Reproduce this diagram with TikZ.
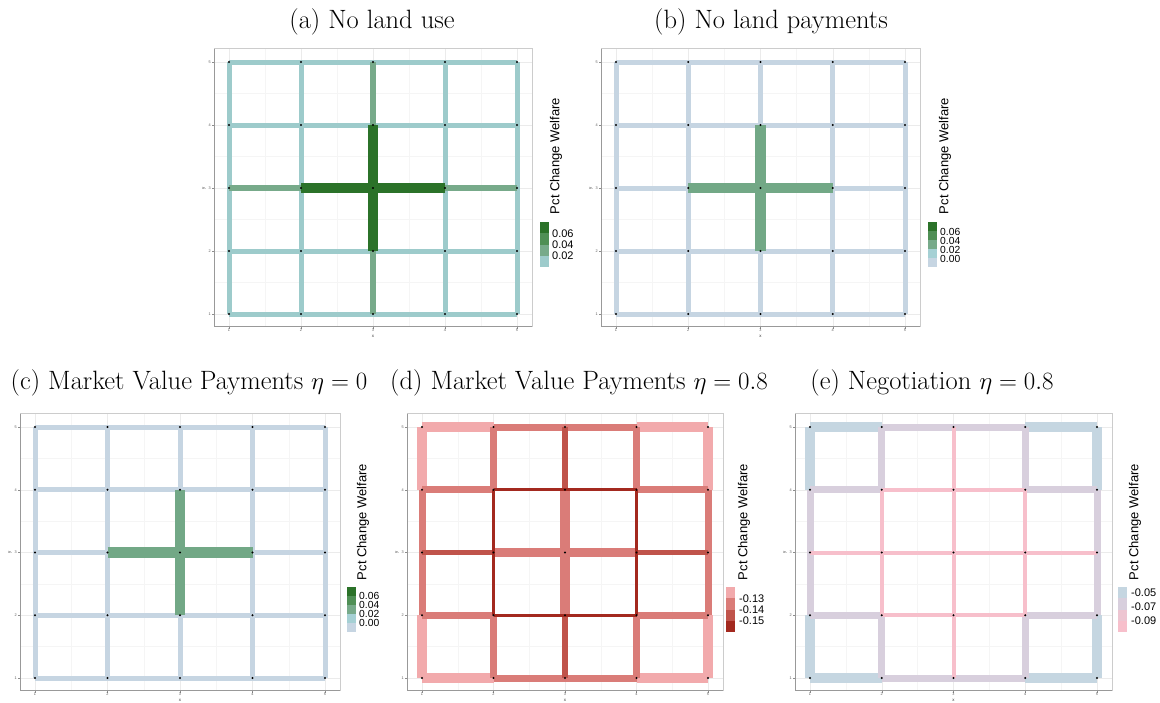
\documentclass[tikz,border=0pt]{standalone}
\usepackage{fontspec}
\newfontfamily\lsans{Liberation Sans}
\definecolor{cTeal}{HTML}{9DCBCB}
\definecolor{cGl}{HTML}{77AA8A}
\definecolor{cGm}{HTML}{4F8F55}
\definecolor{cGd}{HTML}{2B7229}
\definecolor{cBg}{HTML}{C6D5E2}
\definecolor{cTl}{HTML}{A5D0D4}
\definecolor{cGc}{HTML}{72A886}
\definecolor{cLp}{HTML}{F2AAAC}
\definecolor{cMd}{HTML}{DA7C78}
\definecolor{cDk}{HTML}{C0544B}
\definecolor{cDr}{HTML}{A3291F}
\definecolor{cEb}{HTML}{C5D6E1}
\definecolor{cEl}{HTML}{D8CFDD}
\definecolor{cEpp}{HTML}{EDC5D1}
\definecolor{cEp}{HTML}{F7BFCB}
\newcommand\mkpanel[5]{%
 \pgfmathsetmacro\pL{#2-15}%
 \pgfmathsetmacro\pR{#2+4*#3+15}%
 \pgfmathsetmacro\pT{#4-13.5}%
 \pgfmathsetmacro\pB{#4+4*#5+12}%
 \pgfmathsetmacro\pCx{#2+2*#3}%
 \pgfmathsetmacro\pCy{#4+2*#5}%
 \foreach \k in {0.5,1.5,2.5,3.5} {
   \draw[minorgrid] ({#2+\k*#3},\pT) -- ({#2+\k*#3},\pB);
   \draw[minorgrid] (\pL,{#4+\k*#5}) -- (\pR,{#4+\k*#5});
 }
 \foreach \k in {0,...,4} {
   \draw[majorgrid] ({#2+\k*#3},\pT) -- ({#2+\k*#3},\pB);
   \draw[majorgrid] (\pL,{#4+\k*#5}) -- (\pR,{#4+\k*#5});
   \pgfmathtruncatemacro\lab{\k+1}
   \pgfmathtruncatemacro\laby{5-\k}
   \draw[tickst] ({#2+\k*#3},\pB) -- ++(0,2.5) node[ticklab, below=0.6pt] {\lab};
   \draw[tickst] (\pL,{#4+\k*#5}) -- ++(-2.5,0) node[ticklab, left=0.6pt] {\laby};
 }
 \draw[framest] (\pL,\pT) rectangle (\pR,\pB);
 \draw[axisst] (\pL,\pT) -- (\pL,\pB) -- (\pR,\pB);
 \node[axlab] (#1x) at ({\pCx},{\pB+10}) {x};
 \node[axlab, rotate=90] (#1y) at ({\pL-10},{\pCy}) {y};
 \foreach \i in {1,...,5} {\foreach \j in {1,...,5} {
   \coordinate (#1\i\j) at ({#2+(\i-1)*#3},{#4+(5-\j)*#5});}}
}
\newcommand\edges[3]{\foreach \u/\v in {#3} {\draw[#2] (#1\u) -- (#1\v);}}
\newcommand\mkdots[1]{\foreach \i in {1,...,5} {\foreach \j in {1,...,5} {\fill (#1\i\j) circle (1.1pt);}}}
\begin{document}
\begin{tikzpicture}[x=1pt,y=-1pt,
  minorgrid/.style={draw=black!4, line width=0.35pt},
  majorgrid/.style={draw=black!8, line width=0.5pt},
  framest/.style={draw=black!20, line width=0.7pt},
  axisst/.style={draw=black!40, line width=0.7pt},
  tickst/.style={draw=black!45, line width=0.4pt},
  ticklab/.style={font=\lsans\fontsize{3.8}{4}\selectfont, text=black!65, inner sep=0pt},
  axlab/.style={font=\lsans\fontsize{4.4}{5}\selectfont, text=black!80, inner sep=0pt},
  ttl/.style={font=\fontsize{26.5}{30}\selectfont, inner sep=0pt},
  legt/.style={font=\lsans\fontsize{13}{15}\selectfont, rotate=90, inner sep=0pt},
  legl/.style={font=\lsans\fontsize{11}{12}\selectfont, anchor=west, inner sep=0pt},
  legs/.style={font=\lsans\fontsize{10.3}{11}\selectfont, anchor=west, inner sep=0pt},
  ed/.style={line cap=butt},
  aT/.style={ed, draw=cTeal, line width=5pt},
  aM/.style={ed, draw=cGl, line width=6pt},
  aD/.style={ed, draw=cGd, line width=10.5pt},
  bB/.style={ed, draw=cBg, line width=5pt},
  bG/.style={ed, draw=cGc, line width=10.5pt},
  dL/.style={ed, draw=cLp, line width=10.5pt},
  dM/.style={ed, draw=cMd, line width=7pt},
  dMT/.style={ed, draw=cMd, line width=9.5pt},
  dK/.style={ed, draw=cDk, line width=5.5pt},
  dR/.style={ed, draw=cDr, line width=3pt},
  eB/.style={ed, draw=cEb, line width=10pt},
  eL/.style={ed, draw=cEl, line width=7pt},
  eP/.style={ed, draw=cEp, line width=4pt}]
\useasboundingbox[fill=white] (0,0) rectangle (1160,702);

% titles
\node[ttl] (ta) at (372,22) {(a) No land use};
\node[ttl] (tb) at (771,22) {(b) No land payments};
\node[ttl] (tc) at (189,383) {(c) Market Value Payments $\eta = 0$};
\node[ttl] (td) at (579,383) {(d) Market Value Payments $\eta = 0.8$};
\node[ttl] (te) at (932,383) {(e) Negotiation $\eta = 0.8$};

% panels
\mkpanel{a}{229}{72}{62}{63}
\mkpanel{b}{616}{72.25}{62}{63}
\mkpanel{c}{35}{72.5}{427}{62.75}
\mkpanel{d}{422}{71.5}{427}{62.75}
\mkpanel{e}{810}{71.75}{427}{62.75}

% (a)
\edges{a}{aT}{15/25,25/35,35/45,45/55,14/24,24/34,34/44,44/54,12/22,22/32,32/42,42/52,11/21,21/31,31/41,41/51,
 11/12,12/13,13/14,14/15,21/22,22/23,23/24,24/25,41/42,42/43,43/44,44/45,51/52,52/53,53/54,54/55}
\edges{a}{aM}{13/23,43/53,31/32,34/35}
\edges{a}{aD}{23/33,33/43,32/33,33/34}
\mkdots{a}

% (b) and (c)
\foreach \p in {b,c} {
\edges{\p}{bB}{15/25,25/35,35/45,45/55,14/24,24/34,34/44,44/54,13/23,43/53,12/22,22/32,32/42,42/52,11/21,21/31,31/41,41/51,
 11/12,12/13,13/14,14/15,21/22,22/23,23/24,24/25,31/32,34/35,41/42,42/43,43/44,44/45,51/52,52/53,53/54,54/55}
\edges{\p}{bG}{23/33,33/43,32/33,33/34}
\mkdots{\p}
}

% (d)
\edges{d}{dL}{15/25,45/55,14/15,54/55,11/12,51/52,11/21,41/51}
\edges{d}{dM}{25/35,35/45,13/14,12/13,53/54,52/53,21/31,31/41,14/24,44/54,12/22,42/52,24/25,21/22,44/45,41/42}
\edges{d}{dMT}{23/33,33/43,33/34,32/33}
\edges{d}{dK}{13/23,43/53,34/35,31/32}
\edges{d}{dR}{24/34,34/44,22/32,32/42,22/23,23/24,42/43,43/44}
\mkdots{d}

% (e)
\edges{e}{eB}{14/15,15/25,45/55,54/55,11/12,11/21,41/51,51/52}
\edges{e}{eL}{25/35,35/45,13/14,12/13,53/54,52/53,21/31,31/41,14/24,44/54,12/22,42/52,24/25,21/22,44/45,41/42}
\edges{e}{eP}{24/34,34/44,22/32,32/42,22/23,23/24,42/43,43/44,13/23,23/33,33/43,43/53,31/32,32/33,33/34,34/35}
\mkdots{e}

% legends
\node[legt] (la) at (556,156) {Pct Change Welfare};
\foreach \c [count=\n from 0] in {cGd,cGm,cGl,cTeal} \fill[\c] (540,{222+\n*11.25}) rectangle (549,{222+(\n+1)*11.25});
\node[legl] at (552,233.5) {0.06};
\node[legl] at (552,244.75) {0.04};
\node[legl] at (552,256) {0.02};

\node[legt] (lb) at (945,156) {Pct Change Welfare};
\foreach \c [count=\n from 0] in {cGd,cGm,cGl,cTl,cBg} \fill[\c] (928,{222+\n*9}) rectangle (937,{222+(\n+1)*9});
\node[legs] at (940,231.5) {0.06};
\node[legs] at (940,240.5) {0.04};
\node[legs] at (940,249.5) {0.02};
\node[legs] at (940,258.5) {0.00};

\node[legt] (lc) at (363,522) {Pct Change Welfare};
\foreach \c [count=\n from 0] in {cGd,cGm,cGl,cTl,cBg} \fill[\c] (347,{587+\n*9}) rectangle (356,{587+(\n+1)*9});
\node[legs] at (359,596) {0.06};
\node[legs] at (359,605) {0.04};
\node[legs] at (359,614) {0.02};
\node[legs] at (359,623) {0.00};

\node[legt] (ld) at (744,522) {Pct Change Welfare};
\foreach \c [count=\n from 0] in {cLp,cMd,cDk,cDr} \fill[\c] (726,{587+\n*11.25}) rectangle (735,{587+(\n+1)*11.25});
\node[legl] at (739,598.5) {-0.13};
\node[legl] at (739,609.75) {-0.14};
\node[legl] at (739,621) {-0.15};

\node[legt] (le) at (1135,522) {Pct Change Welfare};
\foreach \c [count=\n from 0] in {cEb,cEl,cEpp,cEp} \fill[\c] (1118,{587+\n*11.25}) rectangle (1127,{587+(\n+1)*11.25});
\node[legl] at (1131,593) {-0.05};
\node[legl] at (1131,607) {-0.07};
\node[legl] at (1131,621) {-0.09};
\end{tikzpicture}
\end{document}
